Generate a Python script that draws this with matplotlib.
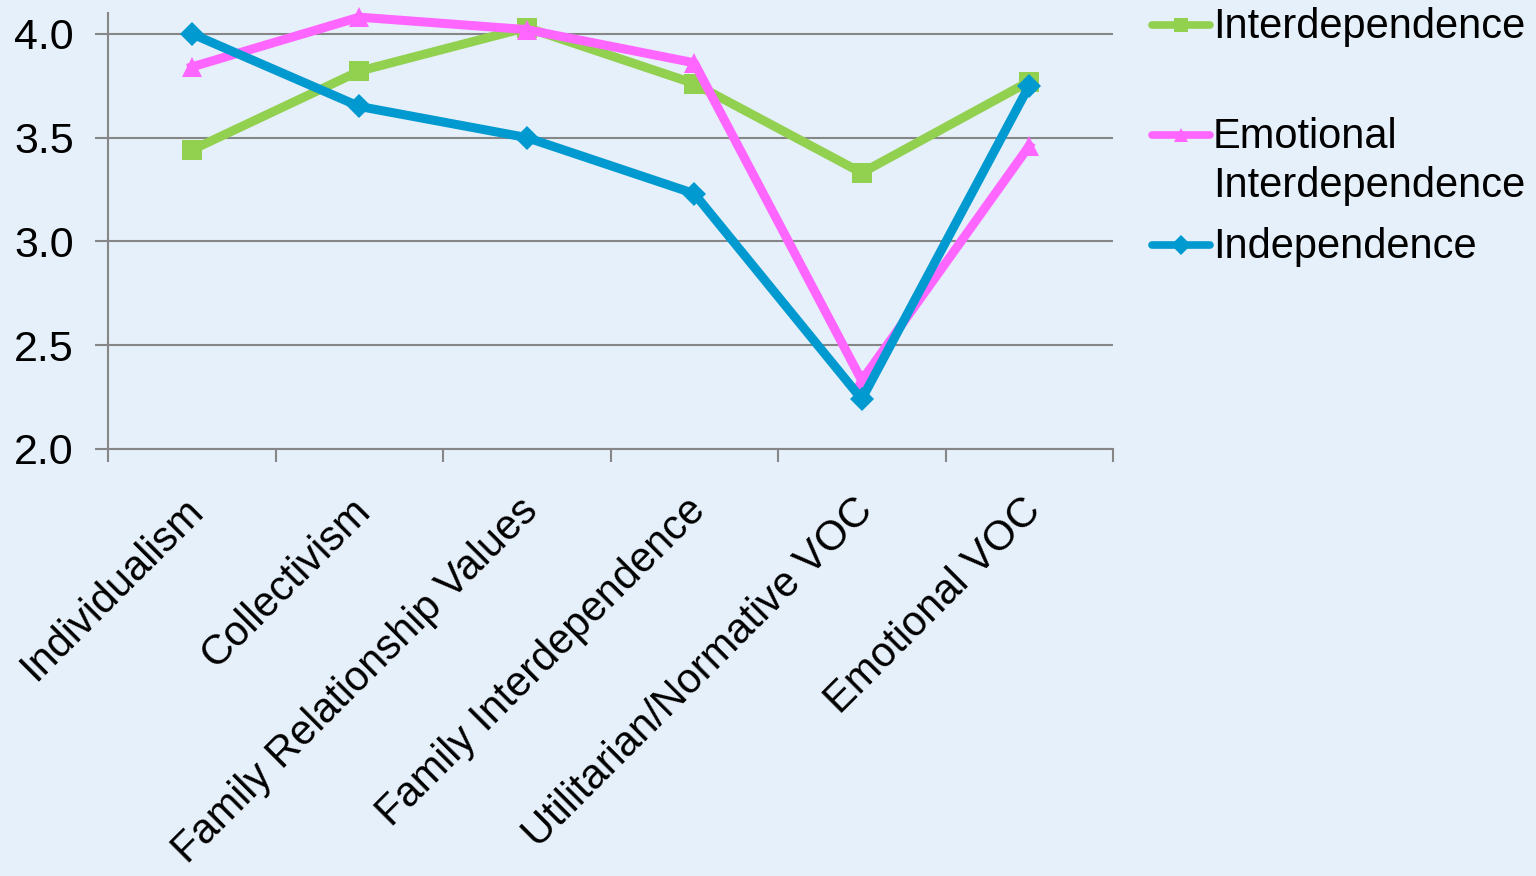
import matplotlib.pyplot as plt
import matplotlib.transforms as mtransforms
from matplotlib.lines import Line2D

categories = ['Individualism', 'Collectivism', 'Family Relationship Values',
              'Family Interdependence', 'Utilitarian/Normative VOC', 'Emotional VOC']
interdependence = [3.44, 3.82, 4.03, 3.76, 3.33, 3.77]
emotional_interdependence = [3.84, 4.08, 4.02, 3.86, 2.33, 3.46]
independence = [4.00, 3.65, 3.50, 3.23, 2.24, 3.75]
series_names = ['Interdependence', 'Emotional\nInterdependence', 'Independence']
y_ticks = [2.0, 2.5, 3.0, 3.5, 4.0]

plt.rcParams['font.family'] = ['Liberation Sans', 'DejaVu Sans']

bg = '#E6F0FA'
grid_c = '#868686'
colors = ['#92D050', '#FF66FF', '#0099D0']
markers = ['s', '^', 'D']
msizes = [14, 15, 12]

fig = plt.figure(figsize=(15.36, 8.76), dpi=100)
fig.patch.set_facecolor(bg)
ax = fig.add_axes([108 / 1536, 1 - 449 / 876, (1113 - 108) / 1536, (449 - 13) / 876])
ax.set_facecolor(bg)

x = list(range(len(categories)))
all_series = [interdependence, emotional_interdependence, independence]
for vals, c, m, ms in zip(all_series, colors, markers, msizes):
    ax.plot(x, vals, color=c, lw=6.5, marker=m, markersize=ms,
            markeredgewidth=0, clip_on=False, zorder=3)

ax.set_xlim(-0.5, len(categories) - 0.5)
ax.set_ylim(2.0, 4.1)
ax.set_yticks(y_ticks)
ax.set_yticklabels([f'{v:.1f}' for v in y_ticks], fontsize=31)
ax.yaxis.grid(True, color=grid_c, lw=1.5)
ax.set_axisbelow(True)

ax.set_xticks([i - 0.5 for i in range(len(categories) + 1)])
ax.set_xticklabels([])
ax.set_xticks(x, minor=True)
ax.set_xticklabels(categories, minor=True, rotation=45, ha='right',
                   rotation_mode='anchor', fontsize=30)
ax.tick_params(axis='x', which='minor', length=0, pad=30)
ax.tick_params(axis='both', which='major', length=9.5, width=1.5, color=grid_c)
ax.tick_params(axis='y', pad=15)
shift = mtransforms.ScaledTranslation(-9 / 100, 0, fig.dpi_scale_trans)
for lab in ax.get_xticklabels(minor=True):
    lab.set_transform(lab.get_transform() + shift)

for s in ['top', 'right']:
    ax.spines[s].set_visible(False)
for s in ['left', 'bottom']:
    ax.spines[s].set_color(grid_c)
    ax.spines[s].set_linewidth(1.5)

# legend, drawn by hand so the marker sits on the first text line
leg_y = [25, 135, 245]
for name, c, m, yy in zip(series_names, colors, markers, leg_y):
    yf = 1 - yy / 876
    fig.add_artist(Line2D([1152 / 1536, 1210 / 1536], [yf, yf], color=c, lw=5.5,
                          solid_capstyle='round', transform=fig.transFigure))
    fig.add_artist(Line2D([1181 / 1536], [yf], color=c, marker=m, markersize=10,
                          markeredgewidth=0, transform=fig.transFigure))
    fig.text(1213 / 1536, yf + 0.0205, name, fontsize=30, va='top', ha='left',
             linespacing=1.3)

fig.savefig('out.png', dpi=100, facecolor=bg)
